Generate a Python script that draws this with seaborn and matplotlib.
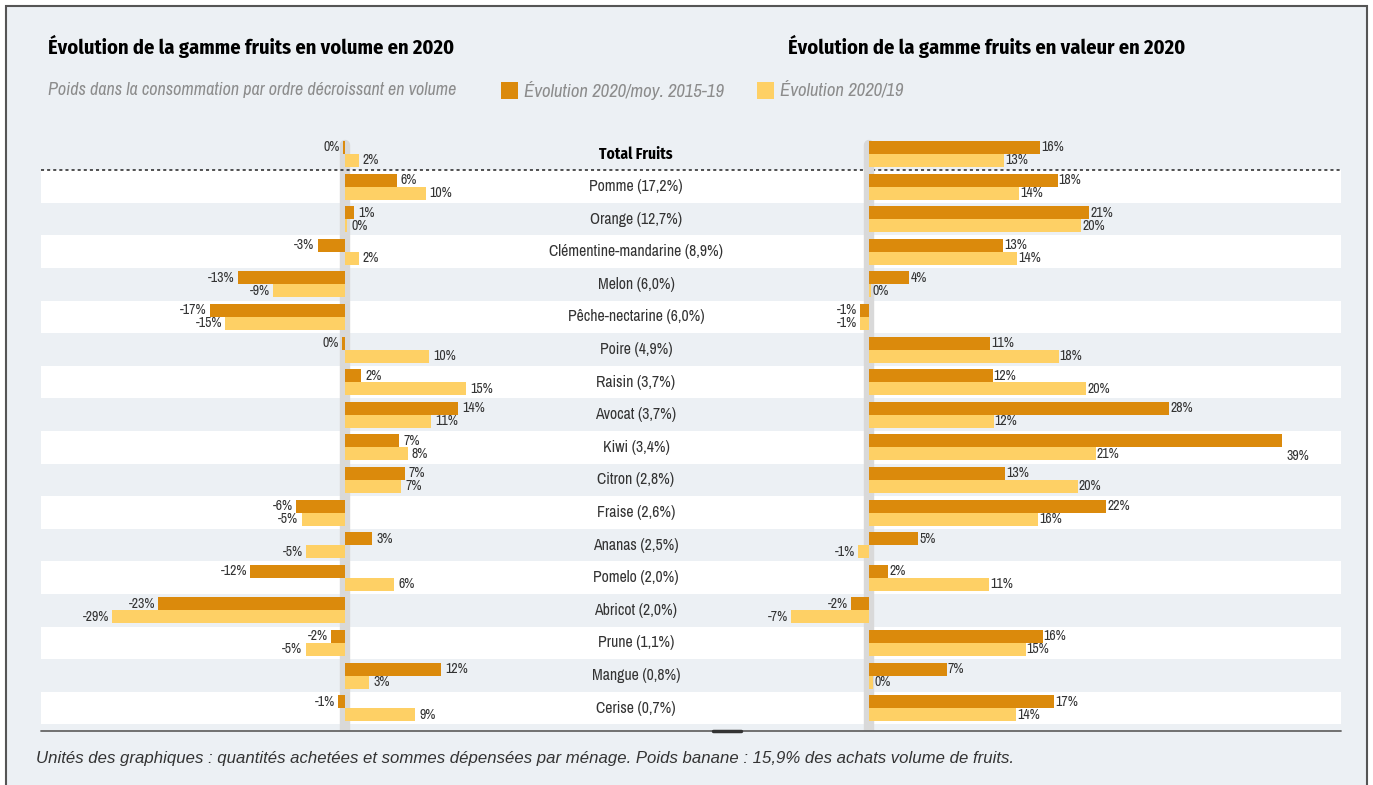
import pandas as pd
import numpy as np
import seaborn as sns
import matplotlib.pyplot as plt
from matplotlib.patches import Rectangle
from matplotlib.lines import Line2D

# data
categories = ["Total Fruits", "Pomme (17,2%)", "Orange (12,7%)", "Clémentine-mandarine (8,9%)",
              "Melon (6,0%)", "Pêche-nectarine (6,0%)", "Poire (4,9%)", "Raisin (3,7%)",
              "Avocat (3,7%)", "Kiwi (3,4%)", "Citron (2,8%)", "Fraise (2,6%)", "Ananas (2,5%)",
              "Pomelo (2,0%)", "Abricot (2,0%)", "Prune (1,1%)", "Mangue (0,8%)", "Cerise (0,7%)"]
series = ["Évolution 2020/moy. 2015-19", "Évolution 2020/19"]

vol_moy = [-0.3, 6.4, 1.1, -3.4, -13.3, -16.8, -0.4, 2.0, 14.0, 6.7, 7.4, -6.1, 3.4, -11.8, -23.2, -1.7, 11.9, -0.9]
vol_19 = [1.7, 10.0, 0.3, 1.7, -8.9, -14.9, 10.4, 15.0, 10.7, 7.8, 7.0, -5.4, -4.8, 6.1, -28.9, -4.9, 3.0, 8.7]
val_moy = [16.1, 17.7, 20.7, 12.6, 3.8, -0.8, 11.4, 11.6, 28.2, 38.8, 12.8, 22.3, 4.6, 1.8, -1.7, 16.3, 7.3, 17.4]
val_19 = [12.7, 14.1, 19.9, 13.9, 0.2, -0.8, 17.8, 20.4, 11.7, 21.3, 19.6, 15.9, -1.0, 11.3, -7.3, 14.7, 0.4, 13.8]

title_vol = "Évolution de la gamme fruits en volume en 2020"
title_val = "Évolution de la gamme fruits en valeur en 2020"
subtitle = "Poids dans la consommation par ordre décroissant en volume"
footer = ("Unités des graphiques : quantités achetées et sommes dépensées par ménage. "
          "Poids banane : 15,9% des achats volume de fruits.")

DARK = "#DB8A0C"
LIGHT = "#FED065"
BG = "#ECF0F4"
BAND = "#D9D9D9"
TXT = "#333333"
GREY = "#8C8C8C"

sns.set_theme(style="white")
plt.rcParams['font.family'] = ['Archivo Narrow', 'Fira Sans Condensed', 'DejaVu Sans']
BOLD = ['Fira Sans Condensed', 'DejaVu Sans']

W, H = 1373, 785
fig = plt.figure(figsize=(W / 100, H / 100), dpi=100, facecolor="white")


def fx(px):
    return px / W


def fy(py):
    return 1 - py / H


# framed background
fig.add_artist(Rectangle((fx(6), fy(790)), fx(1367) - fx(6), (790 - 6) / H, transform=fig.transFigure,
                         facecolor=BG, edgecolor="#555555", linewidth=1.5, zorder=-5))

top, bottom = 137, 731
ylims = (17.70, -0.52)
VFS = 10


def long_df(a, b):
    return pd.DataFrame({
        "cat": categories * 2,
        "serie": [series[0]] * len(categories) + [series[1]] * len(categories),
        "val": list(a) + list(b),
    })


def draw_panel(ax, a, b, xlim, pos_gap, neg_gap):
    df = long_df(a, b)
    sns.barplot(data=df, x="val", y="cat", hue="serie", orient="h", palette=[DARK, LIGHT],
                saturation=1, errorbar=None, width=0.8, linewidth=0, legend=False, ax=ax, zorder=3)
    ax.set_xlim(*xlim)
    ax.set_ylim(*ylims)
    ax.axvline(0, ymin=0, ymax=(bottom - 145) / (bottom - top), color=BAND, lw=7.5, zorder=1)
    for i in range(len(categories)):
        for v, dy in ((a[i], -0.2), (b[i], 0.2)):
            txt = f"{int(round(v))}%"
            if v > 35:
                # label sits under the longest bar
                ax.annotate(txt, (v, i + 0.25), xytext=(3, 0), textcoords="offset points",
                            ha="left", va="center", fontsize=VFS, color=TXT)
            elif v >= 0:
                ax.annotate(txt, (v, i + dy), xytext=(pos_gap, 0), textcoords="offset points",
                            ha="left", va="center", fontsize=VFS, color=TXT)
            else:
                ax.annotate(txt, (v, i + dy), xytext=(-neg_gap, 0), textcoords="offset points",
                            ha="right", va="center", fontsize=VFS, color=TXT)
    ax.set_axis_off()


# left panel (volume) spans the whole striped table
ax1 = fig.add_axes([fx(41), fy(bottom), fx(1341) - fx(41), (bottom - top) / H])
ax1.patch.set_alpha(0)
for i in range(1, len(categories), 2):
    ax1.axhspan(i - 0.5, i + 0.5, color="white", lw=0, zorder=0)
ax1.axhline(0.5, color="#222222", lw=1.1, ls=(0, (2, 2)), zorder=2)
draw_panel(ax1, vol_moy, vol_19, (-(345 - 41) / 8.05, (1341 - 345) / 8.05), 3, 2.2)

lab_x = (636 - 41) / 1300
for i, c in enumerate(categories):
    if i == 0:
        ax1.text(lab_x, i, c, transform=ax1.get_yaxis_transform(), ha="center", va="center",
                 fontsize=11.1, color="black", fontweight="bold", family=BOLD)
    else:
        ax1.text(lab_x, i, c, transform=ax1.get_yaxis_transform(), ha="center", va="center",
                 fontsize=11.3, color=TXT)

# right panel (value)
ax2 = fig.add_axes([fx(760), fy(bottom), fx(1341) - fx(760), (bottom - top) / H])
ax2.patch.set_alpha(0)
draw_panel(ax2, val_moy, val_19, (-(869 - 760) / 10.65, (1341 - 869) / 10.65), 0.8, 2.2)

# bottom rule
fig.add_artist(Line2D([fx(41), fx(1341)], [fy(731), fy(731)], color="#666666", lw=1.3))
fig.add_artist(Line2D([fx(713), fx(741)], [fy(731), fy(731)], color="#333333", lw=2.5))

# titles, legend, footer
fig.text(fx(48), fy(47), title_vol, fontsize=14.7, fontweight="bold", color="black", va="center",
         family=BOLD)
fig.text(fx(788), fy(47), title_val, fontsize=14.7, fontweight="bold", color="black", va="center",
         family=BOLD)
fig.text(fx(48), fy(90), subtitle, fontsize=13, style="italic", color=GREY, va="center")
for (x0, lab, col) in ((501, series[0], DARK), (757, series[1], LIGHT)):
    fig.add_artist(Rectangle((fx(x0), fy(99)), 17 / W, 17 / H, transform=fig.transFigure,
                             facecolor=col, edgecolor="none"))
    fig.text(fx(x0 + 23), fy(90), lab, fontsize=13.5, style="italic", color=GREY, va="center")
fig.text(fx(36), fy(758), footer, fontsize=12.1, style="italic", color=TXT, va="center",
         family=['Liberation Sans', 'DejaVu Sans'])

fig.savefig("out.png", dpi=100, facecolor=fig.get_facecolor())
